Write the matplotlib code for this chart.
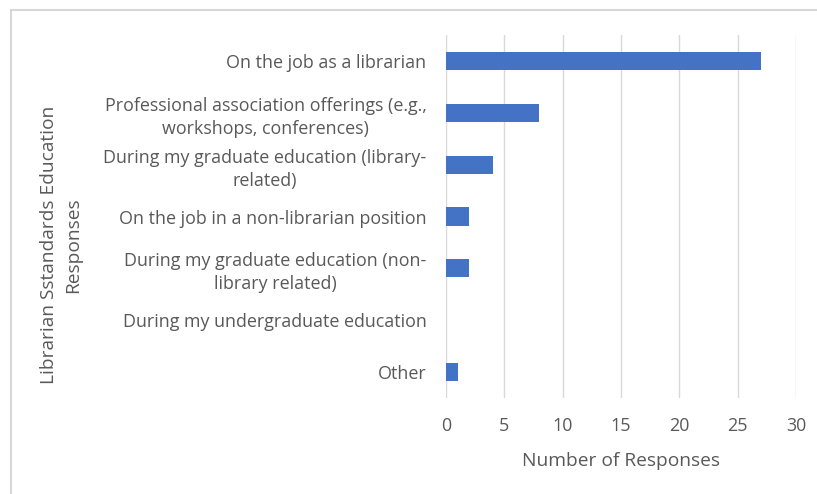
import matplotlib.pyplot as plt
from matplotlib.lines import Line2D

categories = [
    "On the job as a librarian",
    "Professional association offerings (e.g.,\nworkshops, conferences)",
    "During my graduate education (library-\nrelated)",
    "On the job in a non-librarian position",
    "During my graduate education (non-\nlibrary related)",
    "During my undergraduate education",
    "Other",
]
responses = [27, 8, 4, 2, 2, 0, 1]
xticks = [0, 5, 10, 15, 20, 25, 30]

plt.rcParams['font.family'] = ['Open Sans', 'DejaVu Sans']
text_color = '#595959'

fig = plt.figure(figsize=(8.17, 4.94), dpi=100)
ax = fig.add_axes([446 / 817, 1 - 398 / 494, 350 / 817, 363 / 494])

ypos = list(range(len(categories)))
ax.barh(ypos, responses, height=0.35, color='#4472C4', zorder=3)
ax.set_ylim(len(categories) - 0.5, -0.5)
ax.set_xlim(0, 30)
ax.set_xticks(xticks)
ax.set_yticks(ypos)
ax.set_yticklabels(categories, fontsize=12.9, color=text_color,
                   multialignment='center', linespacing=1.35)
ax.tick_params(axis='x', labelsize=12.9, labelcolor=text_color, length=0, pad=14)
ax.tick_params(axis='y', length=0, pad=14)

ax.grid(axis='x', color='#d9d9d9', linewidth=1.0, zorder=0)
for s in ax.spines.values():
    s.set_visible(False)

ax.set_xlabel('Number of Responses', fontsize=13.8, color=text_color, labelpad=12)
fig.text(61 / 817, 1 - 245 / 494, 'Librarian Sstandards Education\nResponses',
         rotation=90, ha='center', va='center', fontsize=13.8, color=text_color,
         multialignment='center', linespacing=1.45)

# outer frame, open on the right and bottom
fig.add_artist(Line2D([11 / 817, 1], [1 - 10 / 494] * 2, color='#d0d0d0', lw=1.2,
                      transform=fig.transFigure))
fig.add_artist(Line2D([11 / 817] * 2, [0, 1 - 10 / 494], color='#d0d0d0', lw=1.2,
                      transform=fig.transFigure))

fig.savefig('out.png', dpi=100)
